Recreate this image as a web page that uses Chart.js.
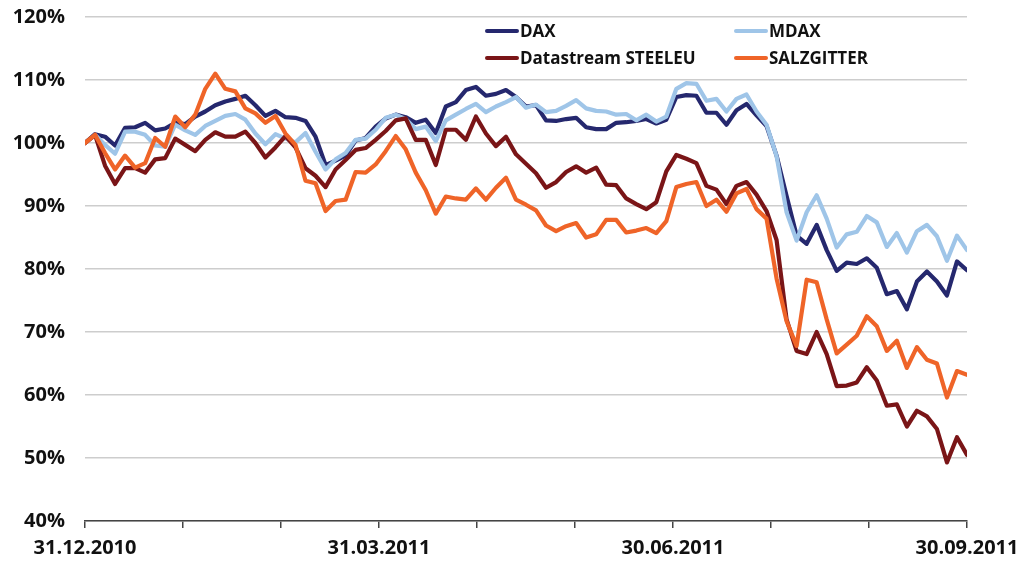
<!DOCTYPE html>
<html>
<head>
<meta charset="utf-8">
<script src="https://cdn.jsdelivr.net/npm/chart.js@4.4.1/dist/chart.umd.min.js"></script>
<style>
html,body{margin:0;padding:0;background:#fff;}
canvas{display:block;}
</style>
</head>
<body>
<canvas id="c" width="1023" height="562"></canvas>
<script>
// Tick labels on the x axis (10 tick marks, labels every third)
const tickLabels = ['31.12.2010','','','31.03.2011','','','30.06.2011','','','30.09.2011'];
const seriesNames = ['DAX','MDAX','Datastream STEELEU','SALZGITTER'];

// Values in % (index = 100 at 31.12.2010), sampled evenly along the period
const dax = [100,101.4,101,99.6,102.4,102.5,103.2,102,102.3,103.2,103,104.2,105,106,106.6,107,107.5,106,104.3,105.1,104.1,104,103.5,101,96.5,97.2,98,100.4,100.8,102.6,103.9,104.5,104.1,103.2,103.7,101.6,105.8,106.5,108.4,108.9,107.5,107.8,108.4,107.3,105.8,106,103.6,103.5,103.8,104,102.5,102.2,102.2,103.2,103.3,103.5,103.8,103.1,103.7,107.3,107.6,107.5,104.8,104.8,102.9,105.2,106.2,104.4,102.7,98,91.6,85.3,84,87,83,79.7,81,80.8,81.7,80.2,76,76.5,73.6,78,79.6,78,75.8,81.2,79.8];
const mdax = [100,101.3,99.7,98.3,101.8,101.8,101.3,99.6,99.4,102.9,102,101.3,102.7,103.5,104.3,104.6,103.7,101.5,99.8,101.4,100.7,100.1,101.6,98.6,95.8,97.4,98.4,100.5,100.7,102.1,104,104.5,103.8,102.2,102.6,100.3,103.6,104.5,105.4,106.2,104.9,105.8,106.5,107.3,105.6,106.1,104.9,105.1,105.9,106.8,105.5,105.1,105,104.5,104.6,103.6,104.5,103.4,104.2,108.6,109.5,109.4,106.7,107,105,107,107.7,105,102.9,97.9,89,84.5,89,91.7,88,83.4,85.5,85.9,88.4,87.4,83.5,85.7,82.6,86,87,85.2,81.3,85.3,83];
const steeleu = [100,101.3,96.4,93.5,96,96,95.3,97.4,97.6,100.7,99.7,98.7,100.5,101.7,101,101,101.8,100,97.7,99.3,101.1,99.3,96,94.8,93,95.8,97.3,98.9,99.2,100.5,101.9,103.6,103.9,100.5,100.5,96.5,102.1,102.1,100.5,104.2,101.5,99.5,101,98.2,96.7,95.2,92.9,93.8,95.4,96.3,95.3,96.1,93.4,93.3,91.2,90.3,89.5,90.6,95.5,98.1,97.5,96.8,93.2,92.6,90.3,93.2,93.8,91.8,89.2,84.6,72,67,66.5,70,66.5,61.4,61.5,62,64.4,62.3,58.3,58.5,55,57.5,56.6,54.6,49.3,53.3,50.5];
const salzgitter = [100,101.3,98.4,95.8,98,96.1,96.8,100.8,99.4,104.2,102.5,104.5,108.6,111,108.6,108.2,105.5,104.7,103.2,104.3,101.5,99.7,94,93.6,89.2,90.8,91,95.4,95.3,96.6,98.7,101.1,99,95.3,92.5,88.8,91.5,91.2,91,92.8,91,92.9,94.5,91,90.2,89.3,86.9,86,86.8,87.3,85,85.5,87.8,87.8,85.8,86.1,86.5,85.7,87.6,93,93.5,93.8,90,91,89.1,92,92.7,89.5,88,78.5,71.7,67.8,78.3,77.9,72,66.6,68,69.4,72.5,70.9,67,68.6,64.3,67.6,65.6,65,59.6,63.8,63.2];

const colors = ['#25286e','#9fc5e8','#7a1517','#ef6428'];
const allSeries = [dax, mdax, steeleu, salzgitter];
const nSteps = dax.length - 1;

const datasets = allSeries.map((arr, si) => ({
  label: seriesNames[si],
  data: arr.map((v, i) => ({x: i, y: v})),
  borderColor: colors[si],
  backgroundColor: colors[si],
  borderWidth: 4.2,
  pointRadius: 0,
  tension: 0,
  borderJoinStyle: 'round',
  borderCapStyle: 'round',
  order: 4 - si
}));

const FONT = '"Open Sans", "Liberation Sans", sans-serif';

const legendPlugin = {
  id: 'cornerLegend',
  afterDraw(chart) {
    const ctx = chart.ctx;
    const slots = [
      {x: 486, y: 31}, {x: 735, y: 31},
      {x: 486, y: 58}, {x: 735, y: 58}
    ];
    ctx.save();
    ctx.font = 'bold 17px ' + FONT;
    ctx.textBaseline = 'middle';
    ctx.textAlign = 'left';
    seriesNames.forEach((name, i) => {
      const s = slots[i];
      ctx.strokeStyle = colors[i];
      ctx.lineWidth = 4;
      ctx.lineCap = 'round';
      ctx.beginPath();
      ctx.moveTo(s.x + 1, s.y);
      ctx.lineTo(s.x + 31, s.y);
      ctx.stroke();
      ctx.fillStyle = '#111';
      ctx.fillText(name, s.x + 34, s.y + 1);
    });
    ctx.restore();
  }
};

new Chart(document.getElementById('c'), {
  type: 'line',
  data: {datasets},
  plugins: [legendPlugin],
  options: {
    responsive: false,
    animation: false,
    devicePixelRatio: 1,
    layout: {padding: {top: 17, right: 56, left: 0, bottom: 0}},
    plugins: {legend: {display: false}, tooltip: {enabled: false}},
    scales: {
      x: {
        type: 'linear',
        min: 0,
        max: nSteps,
        afterBuildTicks(scale) {
          scale.ticks = tickLabels.map((t, k) => ({value: nSteps * k / (tickLabels.length - 1)}));
        },
        afterFit(scale) {
          scale.height = 41;
          scale.paddingLeft = 0;
          scale.paddingRight = 0;
        },
        ticks: {
          autoSkip: false,
          maxRotation: 0,
          padding: 8,
          color: '#111',
          font: {family: FONT, size: 20, weight: 'bold'},
          callback(value, index) { return tickLabels[index]; }
        },
        grid: {drawOnChartArea: false, drawTicks: true, tickLength: 7, color: '#444', lineWidth: 1.5},
        border: {display: true, color: '#444', width: 1.5}
      },
      y: {
        min: 40,
        max: 120,
        afterFit(scale) {
          scale.width = 85;
          scale.paddingTop = 0;
          scale.paddingBottom = 0;
        },
        ticks: {
          stepSize: 10,
          padding: 20,
          color: '#111',
          font: {family: FONT, size: 20, weight: 'bold'},
          callback(v) { return v + '%'; }
        },
        grid: {color: '#cdcdcd', lineWidth: 1.5, drawTicks: false},
        border: {display: false}
      }
    }
  }
});
</script>
</body>
</html>
